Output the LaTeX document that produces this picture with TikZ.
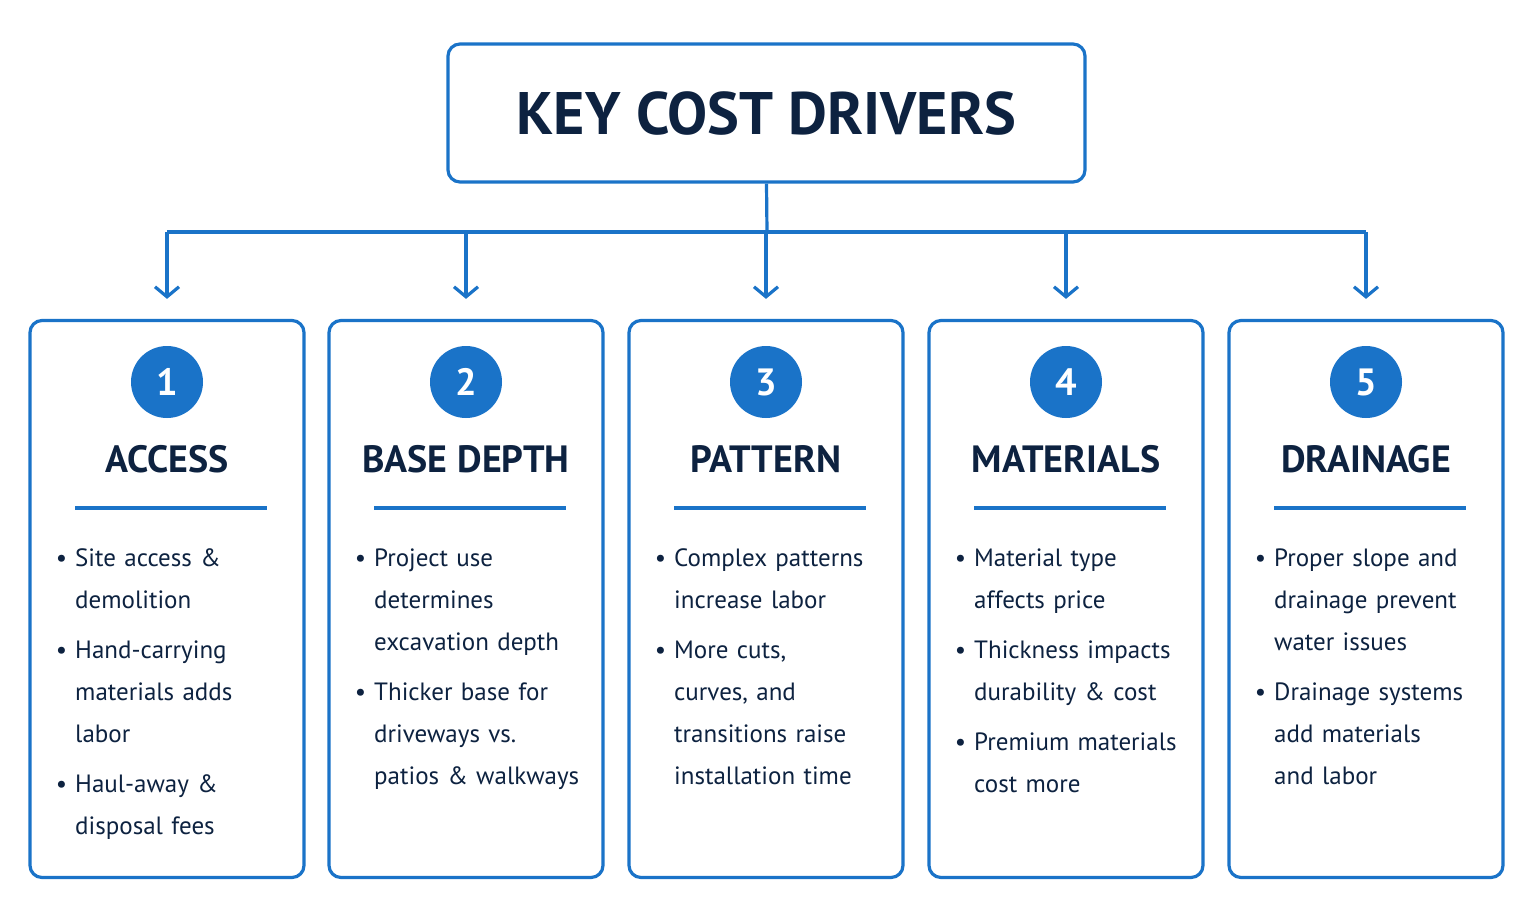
\documentclass[tikz,border=0pt]{standalone}
\usepackage{fontspec}
\setmainfont{PT Sans}
\usetikzlibrary{arrows.meta}
\definecolor{cblue}{HTML}{1A73C8}
\definecolor{navy}{HTML}{0D2240}
\newenvironment{bullets}{\begin{list}{\textbullet}{\leftmargin=23pt\labelwidth=15pt\labelsep=8pt\itemsep=8pt\parsep=0pt\topsep=0pt\partopsep=0pt}}{\end{list}}
\begin{document}
\begin{tikzpicture}[x=1pt,y=-1pt,
    frame/.style={draw=cblue,line width=3.2pt,rounded corners=12pt,fill=white},
    num/.style={circle,fill=cblue,text=white,minimum size=72pt,inner sep=0pt,font=\fontsize{38}{40}\selectfont\bfseries},
    head/.style={text=navy,font=\fontsize{38}{40}\selectfont\bfseries,anchor=base},
    items/.style={text=navy,text width=250pt,anchor=north west,inner sep=0pt,font=\fontsize{25}{42}\selectfont},
    link/.style={draw=cblue,line width=3.2pt},
    arr/.style={link,-{Straight Barb[length=10pt,width=24pt,line width=3.2pt]}}
    ]
\useasboundingbox (0,0) rectangle (1535,924);
\node[frame,minimum width=637pt,minimum height=138pt] (title) at (766.5,113)
    {\color{navy}\fontsize{60}{62}\selectfont\bfseries KEY COST DRIVERS};
\coordinate (split) at (767,232);
\draw[link] (title.south) -- (split);
\foreach \i/\x/\name/\txt in {
    1/167/ACCESS/{\item Site access \&\newline demolition \item Hand-carrying\newline materials adds\newline labor \item Haul-away \&\newline disposal fees},
    2/466/BASE DEPTH/{\item Project use\newline determines\newline excavation depth \item Thicker base for\newline driveways vs.\newline patios \& walkways},
    3/766/PATTERN/{\item Complex patterns\newline increase labor \item More cuts,\newline curves, and\newline transitions raise\newline installation time},
    4/1066/MATERIALS/{\item Material type\newline affects price \item Thickness impacts\newline durability \& cost \item Premium materials\newline cost more},
    5/1366/DRAINAGE/{\item Proper slope and\newline drainage prevent\newline water issues \item Drainage systems\newline add materials\newline and labor}}{
  \node[frame,minimum width=274pt,minimum height=557pt] (box\i) at (\x,599) {};
  \coordinate (top\i) at (\x,232);
  \draw[arr] (top\i) -- ([yshift=20pt]box\i.north);
  \draw[link] (split) -- (top\i);
  \node[num] (num\i) at (\x,382) {\i};
  \node[head] (head\i) at (\x,472) {\name};
  \draw[link] ([xshift=-92pt,yshift=-189pt]box\i.north) -- ([xshift=100pt,yshift=-189pt]box\i.north);
  \node[items] (items\i) at ([xshift=-115pt,yshift=-205pt]box\i.north) {\begin{bullets}\txt\end{bullets}};
}
\end{tikzpicture}
\end{document}
